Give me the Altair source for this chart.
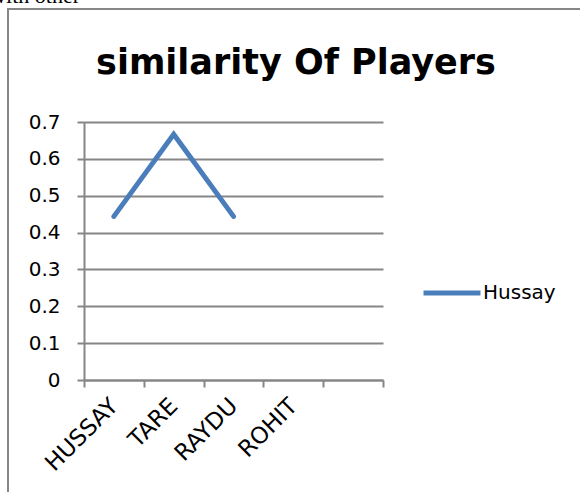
import altair as alt
import pandas as pd

players = ["HUSSAY", "TARE", "RAYDU", "ROHIT", ""]
plotted_players = ["HUSSAY", "TARE", "RAYDU"]
similarity = [0.444, 0.667, 0.444]
series_name = ["Hussay", "Hussay", "Hussay"]
y_ticks = [0, 0.1, 0.2, 0.3, 0.4, 0.5, 0.6, 0.7]
chart_title = "similarity Of Players"
page_fragment = "with other"

GRAY = "#868686"
BLUE = "#4A7EBB"
FONT = "DejaVu Sans"

df = pd.DataFrame({"player": plotted_players, "similarity": similarity, "series": series_name})
one = pd.DataFrame({"k": [0]})

line = alt.Chart(df).mark_line(strokeWidth=5, strokeCap="round", strokeJoin="miter").encode(
    x=alt.X("player:N", sort=players,
            scale=alt.Scale(domain=players, paddingInner=0, paddingOuter=0),
            axis=alt.Axis(title=None, tickBand="extent", ticks=True, tickSize=7, tickWidth=2,
                          tickColor=GRAY, domainColor=GRAY, domainWidth=2, grid=False,
                          labelAngle=-45, labelAlign="right", labelBaseline="middle",
                          labelFont=FONT, labelFontSize=23, labelColor="black", labelPadding=15)),
    y=alt.Y("similarity:Q",
            scale=alt.Scale(domain=[0, 0.7], nice=False),
            axis=alt.Axis(title=None, values=y_ticks, format=".1~f", tickSize=7, tickWidth=2,
                          tickColor=GRAY, domainColor=GRAY, domainWidth=2,
                          grid=True, gridColor=GRAY, gridWidth=2,
                          labelFont=FONT, labelFontSize=20, labelColor="black", labelPadding=17)),
    color=alt.Color("series:N", scale=alt.Scale(range=[BLUE]),
                    legend=alt.Legend(title=None, orient="none", legendX=337, legendY=140,
                                      symbolType="stroke", symbolSize=3249, symbolStrokeWidth=5,
                                      labelFont=FONT, labelFontSize=20, labelColor="black",
                                      labelOffset=0, padding=0)),
)

border = alt.Chart(one).mark_rect(filled=False, stroke=GRAY, strokeWidth=2).encode(
    x=alt.value(-76), y=alt.value(-113), x2=alt.value(700), y2=alt.value(600)
)

fragment = alt.Chart(one).mark_text(text=page_fragment, font="Liberation Serif", fontSize=22,
                                     align="right", baseline="alphabetic", color="black").encode(
    x=alt.value(-4), y=alt.value(-119)
)

title = alt.Chart(one).mark_text(text=chart_title, font=FONT, fontSize=35, fontWeight="bold",
                                  align="center", baseline="alphabetic", color="black").encode(
    x=alt.value(212), y=alt.value(-48)
)

chart = alt.layer(border, fragment, title, line).properties(
    width=299, height=258,
    padding={"left": 84, "top": 122, "right": 197, "bottom": 112},
    autosize="none",
).configure_view(stroke=None)

chart.save("out.html", embed_options={"renderer": "svg", "actions": False})
